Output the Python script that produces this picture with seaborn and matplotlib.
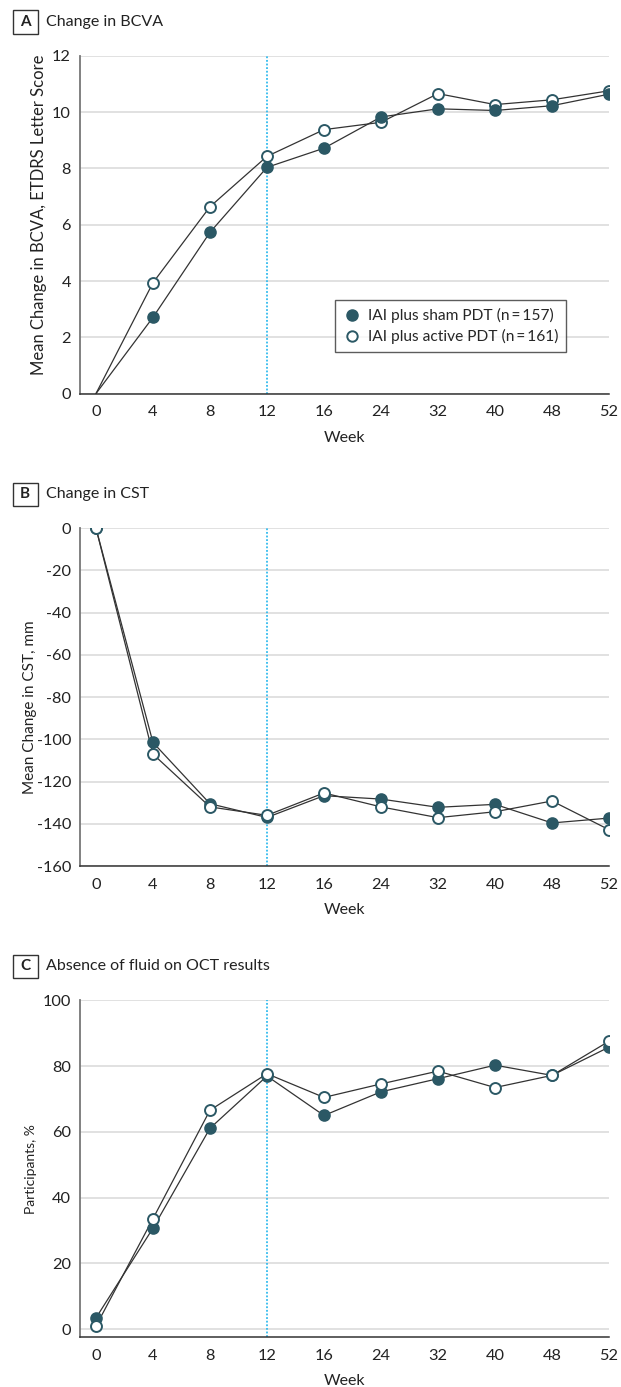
import numpy as np
import pandas as pd
import matplotlib
matplotlib.use('Agg')
import matplotlib.pyplot as plt
from matplotlib.lines import Line2D
from matplotlib.patches import Rectangle
import seaborn as sns

# data
weeks = [0, 4, 8, 12, 16, 24, 32, 40, 48, 52]
bcva_sham = [0, 2.71, 5.73, 8.04, 8.72, 9.83, 10.12, 10.06, 10.23, 10.64]
bcva_active = [0, 3.94, 6.64, 8.43, 9.38, 9.64, 10.66, 10.27, 10.44, 10.76]
cst_sham = [0, -101.5, -130.5, -137, -126.7, -128.3, -132.2, -130.8, -139.6, -137.3]
cst_active = [0, -107, -132, -136, -125.4, -132, -137.1, -134.3, -129.2, -142.8]
oct_sham = [3.4, 30.7, 61.1, 77.0, 65.0, 72.2, 76.2, 80.3, 77.2, 85.8]
oct_active = [0.9, 33.6, 66.6, 77.7, 70.5, 74.6, 78.5, 73.5, 77.2, 87.6]

group_labels = ['IAI plus sham PDT (n\u2009=\u2009157)', 'IAI plus active PDT (n\u2009=\u2009161)']
panel_letters = ['A', 'B', 'C']
panel_titles = ['Change in BCVA', 'Change in CST', 'Absence of fluid on OCT results']
y_labels = ['Mean Change in BCVA, ETDRS Letter Score', 'Mean Change in CST, mm', 'Participants, %']

sns.set_style('white')
plt.rcParams['font.family'] = ['Lato', 'DejaVu Sans']
plt.rcParams['axes.unicode_minus'] = False

TEAL = '#2b5865'
LINE = '#333333'
TXT = '#222222'

pos = np.arange(len(weeks))
fig = plt.figure(figsize=(6.21, 13.87), dpi=100)

axes_rects = [[0.1288, 0.7162, 0.8519, 0.2435],
              [0.1288, 0.3756, 0.8519, 0.2437],
              [0.1288, 0.0358, 0.8519, 0.2429]]
panels = [(bcva_sham, bcva_active), (cst_sham, cst_active), (oct_sham, oct_active)]
ylims = [(0, 12), (-160, 0), (-2.5, 100)]
yticks = [np.arange(0, 13, 2), np.arange(-160, 1, 20), np.arange(0, 101, 20)]
ylabel_size = [12, 11, 10]
ylabel_xy = [(-0.062, 0.53), (-0.082, 0.47), (-0.082, 0.50)]
box_bottoms = [0.9758, 0.6352, 0.2949]
title_y = [0.9844, 0.6438, 0.3035]

for i, (sham, active) in enumerate(panels):
    ax = fig.add_axes(axes_rects[i])
    df = pd.DataFrame({'pos': np.concatenate([pos, pos]),
                       'value': sham + active,
                       'group': ['sham'] * len(pos) + ['active'] * len(pos)})
    sh = df[df.group == 'sham']
    ac = df[df.group == 'active']
    # panel A draws no markers at baseline
    if i == 0:
        sh_m, ac_m = sh[sh.pos > 0], ac[ac.pos > 0]
    else:
        sh_m, ac_m = sh, ac
    z_sham, z_act = (5, 4) if i == 0 else (4, 5)

    ax.axvline(3, color='#33bbee', lw=1.3, ls=(0, (1, 1)), zorder=2)
    sns.lineplot(data=sh, x='pos', y='value', color=LINE, lw=0.9, sort=False,
                 estimator=None, ax=ax, zorder=3)
    sns.lineplot(data=ac, x='pos', y='value', color=LINE, lw=0.9, sort=False,
                 estimator=None, ax=ax, zorder=3)
    sns.scatterplot(data=sh_m, x='pos', y='value', color=TEAL, edgecolor=TEAL,
                    s=62, linewidth=1.2, ax=ax, zorder=z_sham)
    sns.scatterplot(data=ac_m, x='pos', y='value', color='white', edgecolor=TEAL,
                    s=62, linewidth=1.4, ax=ax, zorder=z_act)

    ax.set_xlim(-0.28, 9)
    ax.set_ylim(*ylims[i])
    ax.set_xticks(pos)
    ax.set_xticklabels([str(w) for w in weeks])
    ax.set_yticks(yticks[i])
    ax.yaxis.grid(True, color='#dcdcdc', lw=1.2)
    ax.set_axisbelow(True)
    for s in ['top', 'right']:
        ax.spines[s].set_visible(False)
    ax.spines['left'].set_color('#777777')
    ax.spines['left'].set_linewidth(1.3)
    ax.spines['bottom'].set_color('#333333')
    ax.spines['bottom'].set_linewidth(1.1)
    ax.tick_params(axis='both', direction='out', length=3.5, width=0.9,
                   color='#333333', labelsize=11.8, labelcolor=TXT)
    ax.tick_params(axis='x', pad=5)
    ax.tick_params(axis='y', pad=3)
    ax.set_xlabel('Week', fontsize=11.5, color=TXT, labelpad=8)
    ax.set_ylabel(y_labels[i], fontsize=ylabel_size[i], color=TXT)
    ax.yaxis.set_label_coords(*ylabel_xy[i])

    if i == 0:
        handles = [Line2D([], [], ls='none', marker='o', ms=8, mfc=TEAL, mec=TEAL),
                   Line2D([], [], ls='none', marker='o', ms=7.5, mfc='white', mec=TEAL, mew=1.4)]
        leg = ax.legend(handles, group_labels, loc='lower right',
                        bbox_to_anchor=(0.919, 0.123), fontsize=11.2, frameon=True,
                        fancybox=False, handletextpad=0.4, borderpad=0.5,
                        labelspacing=0.4, handlelength=1.2, borderaxespad=0)
        leg.get_frame().set_edgecolor('#333333')
        leg.get_frame().set_linewidth(1.0)

    # panel letter box and title
    fig.add_artist(Rectangle((0.0209, box_bottoms[i]), 0.0395, 0.0169,
                             transform=fig.transFigure, fill=False,
                             ec='#333333', lw=1.0))
    fig.text(0.0209 + 0.0395 / 2, box_bottoms[i] + 0.0169 / 2, panel_letters[i],
             ha='center', va='center', fontsize=11, fontweight='bold', color=TXT)
    fig.text(0.074, title_y[i], panel_titles[i], ha='left', va='center',
             fontsize=11.5, color=TXT)

fig.savefig('out.png', dpi=100)
